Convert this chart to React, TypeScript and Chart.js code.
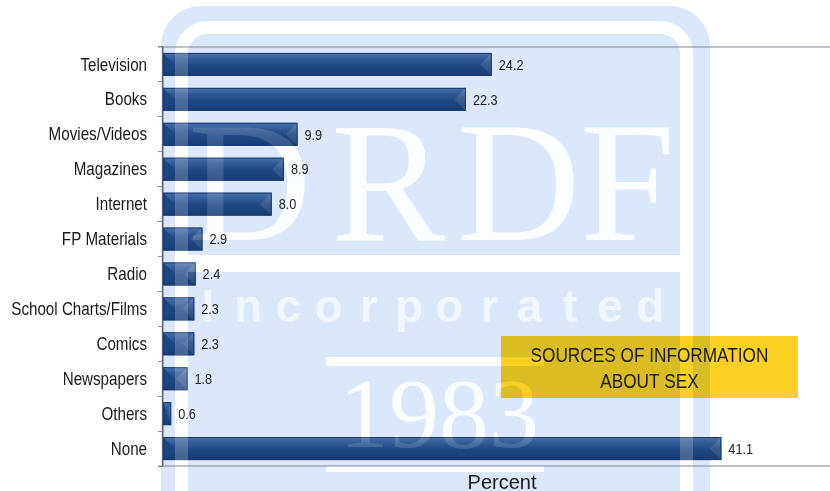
import React, { useEffect, useRef } from "react";
import { Chart, registerables } from "chart.js";

Chart.register(...registerables);

const categories = [
  "Television",
  "Books",
  "Movies/Videos",
  "Magazines",
  "Internet",
  "FP Materials",
  "Radio",
  "School Charts/Films",
  "Comics",
  "Newspapers",
  "Others",
  "None",
];
const percents = [24.2, 22.3, 9.9, 8.9, 8.0, 2.9, 2.4, 2.3, 2.3, 1.8, 0.6, 41.1];
const valueLabels = ["24.2", "22.3", "9.9", "8.9", "8.0", "2.9", "2.4", "2.3", "2.3", "1.8", "0.6", "41.1"];
const axisTitle = "Percent";
const boxLines = ["SOURCES OF INFORMATION", "ABOUT SEX"];
const watermarkLetters = ["D", "R", "D", "F"];
const watermarkWord = "Incorporated";
const watermarkYear = "1983";

const SANS = "'Liberation Sans', Arial, sans-serif";
const SERIF = "'Liberation Serif', 'Times New Roman', serif";
const WM_BLUE = "#dbe7fa";
const NARROW_SCALE = 0.82;

function roundRectPath(ctx: CanvasRenderingContext2D, x: number, y: number, w: number, h: number, r: number) {
  ctx.beginPath();
  ctx.moveTo(x + r, y);
  ctx.lineTo(x + w - r, y);
  ctx.arcTo(x + w, y, x + w, y + r, r);
  ctx.lineTo(x + w, y + h);
  ctx.lineTo(x, y + h);
  ctx.lineTo(x, y + r);
  ctx.arcTo(x, y, x + r, y, r);
  ctx.closePath();
}

function narrowText(ctx: CanvasRenderingContext2D, text: string, x: number, y: number) {
  ctx.save();
  ctx.translate(x, y);
  ctx.scale(NARROW_SCALE, 1);
  ctx.fillText(text, 0, 0);
  ctx.restore();
}

function drawWatermarkWhites(ctx: CanvasRenderingContext2D, color: string, textColor: string, wordColor: string) {
  ctx.strokeStyle = color;
  ctx.lineWidth = 13;
  roundRectPath(ctx, 181.5, 27.5, 505, 560, 26);
  ctx.stroke();
  ctx.fillStyle = color;
  ctx.fillRect(188, 255, 492, 17);
  ctx.fillRect(326, 357, 218, 9);
  ctx.fillRect(326, 466, 218, 6);
  ctx.fillStyle = textColor;
  ctx.font = `171px ${SERIF}`;
  ctx.textAlign = "left";
  ctx.textBaseline = "alphabetic";
  const lefts = [188, 331, 457, 580];
  watermarkLetters.forEach((ch, i) => ctx.fillText(ch, lefts[i], 240));
  ctx.fillStyle = wordColor;
  ctx.font = `bold 46px ${SANS}`;
  ctx.textAlign = "center";
  watermarkWord.split("").forEach((ch, i) => ctx.fillText(ch, 208 + i * 40.2, 322));
  ctx.fillStyle = textColor;
  ctx.font = `100px ${SERIF}`;
  ctx.fillText(watermarkYear, 439, 447);
}

const watermarkPlugin = {
  id: "watermark",
  beforeDraw(chart: any) {
    const ctx: CanvasRenderingContext2D = chart.ctx;
    ctx.save();
    ctx.fillStyle = "#ffffff";
    ctx.fillRect(0, 0, chart.width, chart.height);
    ctx.fillStyle = WM_BLUE;
    roundRectPath(ctx, 161, 6, 549, 600, 40);
    ctx.fill();
    drawWatermarkWhites(ctx, "#ffffff", "rgba(255,255,255,0.92)", "rgba(246,249,254,0.8)");
    ctx.restore();
  },
};

const bevelPlugin = {
  id: "bevelBars",
  afterDatasetsDraw(chart: any) {
    const ctx: CanvasRenderingContext2D = chart.ctx;
    const meta = chart.getDatasetMeta(0);
    ctx.save();
    meta.data.forEach((el: any) => {
      const x0 = Math.min(el.base, el.x);
      const x1 = Math.max(el.base, el.x);
      const y0 = el.y - el.height / 2;
      const y1 = el.y + el.height / 2;
      const h = y1 - y0;
      const w = x1 - x0;
      const d = Math.min(h / 2, w / 2);
      const g = ctx.createLinearGradient(0, y0, 0, y1);
      g.addColorStop(0, "#4a70aa");
      g.addColorStop(0.35, "#2a5390");
      g.addColorStop(0.55, "#1f4885");
      g.addColorStop(1, "#183c74");
      ctx.fillStyle = g;
      ctx.fillRect(x0, y0, w, h);
      ctx.fillStyle = "#1d4580";
      ctx.beginPath();
      ctx.moveTo(x0, y0);
      ctx.lineTo(x0 + d, y0 + h / 2);
      ctx.lineTo(x0, y1);
      ctx.closePath();
      ctx.fill();
      const gr = ctx.createLinearGradient(0, y0, 0, y1);
      gr.addColorStop(0, "#6480ab");
      gr.addColorStop(0.5, "#3a5b8f");
      gr.addColorStop(1, "#294a80");
      ctx.fillStyle = gr;
      ctx.beginPath();
      ctx.moveTo(x1, y0);
      ctx.lineTo(x1 - d, y0 + h / 2);
      ctx.lineTo(x1, y1);
      ctx.closePath();
      ctx.fill();
      ctx.strokeStyle = "#173a70";
      ctx.lineWidth = 1;
      ctx.strokeRect(x0 + 0.5, y0 + 0.5, w - 1, h - 1);
    });
    ctx.save();
    ctx.beginPath();
    meta.data.forEach((el: any) => {
      const x0 = Math.min(el.base, el.x);
      const x1 = Math.max(el.base, el.x);
      ctx.rect(x0, el.y - el.height / 2, x1 - x0, el.height);
    });
    ctx.clip();
    drawWatermarkWhites(ctx, "rgba(255,255,255,0.2)", "rgba(255,255,255,0.14)", "rgba(255,255,255,0.12)");
    ctx.restore();
    ctx.fillStyle = "#222222";
    ctx.font = `15.5px ${SANS}`;
    ctx.textAlign = "left";
    ctx.textBaseline = "middle";
    meta.data.forEach((el: any, i: number) => {
      narrowText(ctx, valueLabels[i], Math.max(el.base, el.x) + 7, el.y + 1);
    });
    ctx.restore();
  },
  afterDraw(chart: any) {
    const ctx: CanvasRenderingContext2D = chart.ctx;
    const a = chart.chartArea;
    const yScale = chart.scales.y;
    ctx.save();
    ctx.fillStyle = "#1a1a1a";
    ctx.font = `18.5px ${SANS}`;
    ctx.textAlign = "right";
    ctx.textBaseline = "middle";
    categories.forEach((c, i) => {
      narrowText(ctx, c, 147, yScale.getPixelForTick(i) + 1);
    });
    ctx.strokeStyle = "#80858d";
    ctx.lineWidth = 1.2;
    ctx.beginPath();
    ctx.moveTo(158, a.top);
    ctx.lineTo(chart.width, a.top);
    ctx.stroke();
    ctx.beginPath();
    ctx.moveTo(158, a.bottom);
    ctx.lineTo(chart.width, a.bottom);
    ctx.stroke();
    ctx.fillStyle = "#1a1a1a";
    ctx.font = `20px ${SANS}`;
    ctx.textAlign = "center";
    ctx.textBaseline = "alphabetic";
    ctx.fillText(axisTitle, 502, 489);
    ctx.globalCompositeOperation = "multiply";
    ctx.fillStyle = "#fdd123";
    ctx.fillRect(501, 336, 297, 62);
    ctx.globalCompositeOperation = "source-over";
    ctx.fillStyle = "#1a1a1a";
    ctx.font = `21px ${SANS}`;
    ctx.textAlign = "center";
    narrowText(ctx, boxLines[0], 649.5, 362);
    narrowText(ctx, boxLines[1], 649.5, 388);
    ctx.restore();
  },
};

export default function App() {
  const ref = useRef<HTMLCanvasElement | null>(null);
  useEffect(() => {
    if (!ref.current) return;
    const chart = new Chart(ref.current, {
      type: "bar",
      data: {
        labels: categories,
        datasets: [
          {
            data: percents,
            backgroundColor: "rgba(0,0,0,0)",
            borderWidth: 0,
            barPercentage: 0.66,
            categoryPercentage: 1,
          },
        ],
      },
      options: {
        indexAxis: "y",
        responsive: false,
        animation: false,
        layout: { padding: { top: 47, bottom: 25, left: 0, right: 0 } },
        plugins: { legend: { display: false }, tooltip: { enabled: false } },
        scales: {
          x: { display: false, min: 0, max: 49.1 },
          y: {
            afterFit: (scale: any) => {
              scale.width = 163;
            },
            border: { display: true, color: "#5d6573", width: 1.5 },
            grid: {
              drawOnChartArea: false,
              drawTicks: true,
              tickLength: 5,
              color: "#8a8f98",
              offset: true,
            },
            ticks: {
              padding: 11,
              color: "rgba(0,0,0,0)",
              font: { family: SANS, size: 12 },
            },
          },
        },
      },
      plugins: [watermarkPlugin, bevelPlugin],
    } as any);
    return () => chart.destroy();
  }, []);
  return (
    <div style={{ position: "fixed", left: 0, top: 0, width: 830, height: 491 }}>
      <canvas ref={ref} width={830} height={491} />
    </div>
  );
}
